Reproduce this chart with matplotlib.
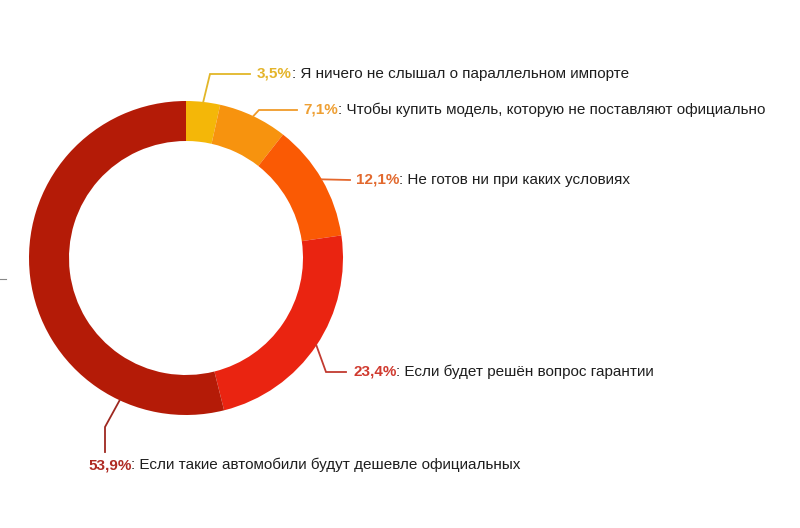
import matplotlib.pyplot as plt
import numpy as np

plt.rcParams['font.family'] = ['Liberation Sans', 'DejaVu Sans']

# Data
answers = [
    "Я ничего не слышал о параллельном импорте",
    "Чтобы купить модель, которую не поставляют официально",
    "Не готов ни при каких условиях",
    "Если будет решён вопрос гарантии",
    "Если такие автомобили будут дешевле официальных",
]
shares = [3.5, 7.1, 12.1, 23.4, 53.9]

ring_colors = ["#F4B708", "#F7930E", "#FA5A04", "#EA2411", "#B41B07"]
label_colors = ["#E4B42A", "#EE9F33", "#E2692E", "#D03A2F", "#AE2A22"]
line_colors = ["#E2B628", "#F09B2A", "#E4672C", "#C23A30", "#9E2820"]

# Layout (pixel coords, y from top)
W, H = 800, 528
CX, CY, R, RING = 186, 258, 157, 40
leg_points = [
    [(210, 74), (250, 74)],
    [(259, 110), (297, 110)],
    [(350, 180)],
    [(326, 372), (346, 372)],
    [(105, 427), (105, 452)],
]
text_pos = [(257, 74), (303, 110), (356, 180), (353, 372), (88, 465)]
anchor_override = [None, None, None, None, 245]


def py(y):
    return H - y


fig = plt.figure(figsize=(W / 100, H / 100), dpi=100)
ax = fig.add_axes([0, 0, 1, 1])

wedges, _ = ax.pie(
    shares, colors=ring_colors, startangle=90, counterclock=False,
    radius=R, center=(CX, py(CY)),
    wedgeprops=dict(width=RING, linewidth=0),
)
ax.set_xlim(0, W)
ax.set_ylim(0, H)
ax.set_aspect("equal")
ax.axis("off")

for i, w in enumerate(wedges):
    ang = anchor_override[i]
    if ang is None:
        ang = (w.theta1 + w.theta2) / 2
    a = np.deg2rad(ang)
    pts = [(CX + R * np.cos(a), py(CY) + R * np.sin(a))]
    pts += [(x, py(y)) for x, y in leg_points[i]]
    xs, ys = zip(*pts)
    ax.plot(xs, ys, color=line_colors[i], lw=1.3, solid_joinstyle="miter")

    tx, ty = text_pos[i]
    pct = f"{shares[i]:.1f}".replace(".", ",") + "%"
    t1 = ax.text(tx, py(ty), pct, color=label_colors[i], fontsize=11,
                 fontweight="bold", ha="left", va="center")
    ax.annotate(": " + answers[i], xy=(1, 0), xycoords=t1,
                ha="left", va="bottom", fontsize=11, color="#1E1E1E")

# small stray tick at the left edge
ax.plot([0, 6], [py(279), py(279)], color="#888888", lw=0.8)

fig.savefig("out.png", dpi=100, facecolor="white")
